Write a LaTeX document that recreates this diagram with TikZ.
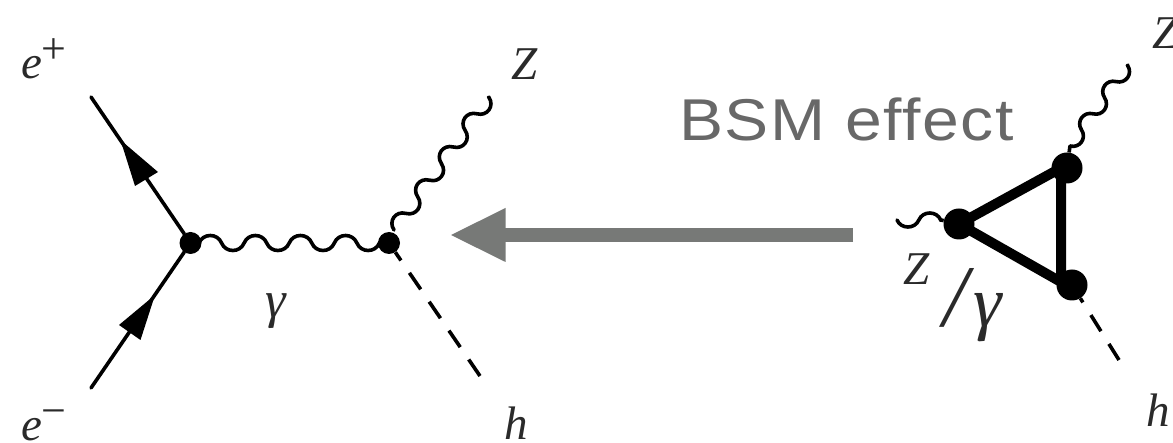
\documentclass[tikz,border=0pt]{standalone}
\usepackage{fontspec}
\setmainfont{Liberation Serif}
\setsansfont{Liberation Sans}
\usetikzlibrary{decorations}
\pgfdeclaredecoration{softwave}{up}{
  \state{up}[switch if less than=0.2\pgfdecorationsegmentlength to final,width=0.5\pgfdecorationsegmentlength,next state=down]{
    \pgfpathcurveto{\pgfpoint{0.09\pgfdecorationsegmentlength}{1.333\pgfdecorationsegmentamplitude}}{\pgfpoint{0.41\pgfdecorationsegmentlength}{1.333\pgfdecorationsegmentamplitude}}{\pgfpoint{0.5\pgfdecorationsegmentlength}{0pt}}
  }
  \state{down}[switch if less than=0.2\pgfdecorationsegmentlength to final,width=0.5\pgfdecorationsegmentlength,next state=up]{
    \pgfpathcurveto{\pgfpoint{0.09\pgfdecorationsegmentlength}{-1.333\pgfdecorationsegmentamplitude}}{\pgfpoint{0.41\pgfdecorationsegmentlength}{-1.333\pgfdecorationsegmentamplitude}}{\pgfpoint{0.5\pgfdecorationsegmentlength}{0pt}}
  }
  \state{final}{\pgfpathlineto{\pgfpointdecoratedpathlast}}
}
\definecolor{arrowgray}{HTML}{777977}
\definecolor{textgray}{HTML}{686868}
\definecolor{inkdark}{HTML}{2A2A2A}
\tikzset{
  x=1bp,y=-1bp,
  fermion/.style={line width=3.6bp,line cap=round},
  wave/.style 2 args={line width=3.6bp,line cap=round,decorate,decoration={softwave,segment length=#1,amplitude=#2}},
  scalar/.style={line width=3.6bp,dash pattern=on 20bp off 15bp},
  vertexdot/.style={circle,fill=black,inner sep=0pt,minimum size=22bp},
  bigdot/.style={circle,fill=black,inner sep=0pt,minimum size=31bp},
  loopline/.style={line width=10bp},
  lab/.style={anchor=base west,inner sep=0pt,outer sep=0pt,text=inkdark,font=\fontsize{47bp}{50bp}\selectfont\itshape},
  head/.style={fill=black}
}
\newcommand{\supsc}[1]{\raisebox{0.34em}{\fontsize{44bp}{46bp}\selectfont\upshape #1}}
\begin{document}
\begin{tikzpicture}
\useasboundingbox (0,0) rectangle (1173,443);
\clip (0,0) rectangle (1173,443);
% left diagram
\coordinate (ep) at (91,97);
\coordinate (em) at (91,388);
\coordinate (zend) at (489,97);
\coordinate (hend) at (480,376);
\coordinate (ws) at (199,243);
\coordinate (we) at (380,243);
\coordinate (zs) at (394,230);
\node[vertexdot] (v1) at (190.5,243) {};
\node[vertexdot] (v2) at (389,243) {};
\draw[fermion] (ep) -- (v1);
\draw[fermion] (em) -- (v1);
\fill[head] (120.5,140) -- (158,172) -- (135,186) -- cycle;
\fill[head] (155,295) -- (119,325) -- (140.5,340) -- cycle;
\draw[wave={45.1bp}{7.5bp}] (ws) -- (we);
\draw[wave={40.8bp}{7.5bp}] (zs) -- (zend);
\draw[scalar] (hend) -- (v2);
% arrow
\coordinate (as) at (853,235);
\coordinate (ae) at (505,235);
\coordinate (atip) at (451,235);
\draw[arrowgray,line width=13.5bp] (as) -- (ae);
\fill[arrowgray] (atip) -- (505.5,208) -- (505.5,262) -- cycle;
\node[anchor=base west,inner sep=0pt,text=textgray,font=\fontsize{59bp}{62bp}\selectfont\sffamily\addfontfeature{FakeStretch=1.12,LetterSpace=2.6}] (bsm) at (679,141) {BSM effect};
% right diagram
\coordinate (zl) at (897,220);
\coordinate (zlend) at (941,220);
\coordinate (zr) at (1070,146);
\coordinate (zrend) at (1128,65);
\coordinate (hr) at (1119,360);
\node[bigdot] (a) at (959,224) {};
\node[bigdot] (b) at (1067,168) {};
\node[bigdot] (c) at (1072,285) {};
\coordinate (bi) at (1061,168);
\coordinate (ci) at (1061,282);
\draw[loopline,line join=miter] (a.center) -- (bi) -- (ci) -- cycle;
\draw[line width=3.6bp] (zlend) -- (a);
\draw[wave={43.7bp}{-7bp}] (zl) -- (zlend);
\draw[line width=3.6bp] (b) -- (zr);
\draw[wave={39.6bp}{-7bp}] (zr) -- (zrend);
\draw[scalar,dash pattern=on 19bp off 15bp] (hr) -- (c);
% labels
\node[lab] (lep) at (21,79) {e\supsc{+}};
\node[lab] (lem) at (21,441) {e\supsc{−}};
\node[lab] (lz1) at (511,80) {Z};
\node[lab] (lh1) at (504.5,440) {h};
\node[lab,font=\fontsize{52bp}{54bp}\selectfont\itshape] (lg1) at (265,318) {γ};
\node[lab] (lz2) at (1152,49) {Z};
\node[lab] (lh2) at (1146,427) {h};
\node[lab] (lz3) at (903,285) {Z};
\node[lab,font=\fontsize{72bp}{74bp}\selectfont\itshape] (lg2) at (943,327) {{\fontsize{88bp}{90bp}\selectfont /}\hspace{6bp}γ};
\end{tikzpicture}
\end{document}
